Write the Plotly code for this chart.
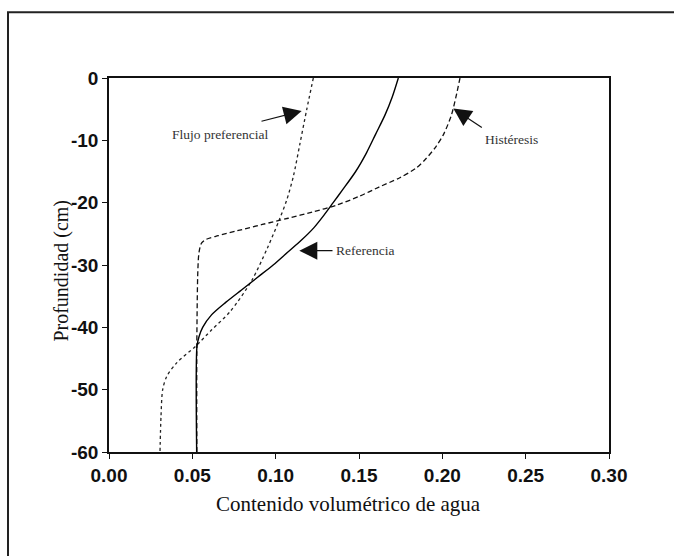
import plotly.graph_objects as go

# Reference curve (solid)
ref_theta = [0.1736, 0.1700, 0.1655, 0.1600, 0.1545, 0.1480, 0.1400, 0.1345, 0.1290, 0.1230, 0.1155, 0.1070, 0.0985, 0.0890, 0.0795, 0.0700, 0.0615, 0.0562, 0.0540, 0.0528, 0.0526]
ref_depth = [0, -3, -6, -9, -12, -15, -18, -20, -22, -24, -26, -28, -30, -32, -34, -36, -38, -40, -41.5, -43, -60]

# Hysteresis (dashed)
hys_theta = [0.2106, 0.2082, 0.2054, 0.2008, 0.1962, 0.1900, 0.1840, 0.1745, 0.1620, 0.1500, 0.1365, 0.1220, 0.1075, 0.0920, 0.0770, 0.0655, 0.0582, 0.0555, 0.0540, 0.0533, 0.0527, 0.0527]
hys_depth = [0, -3, -6, -9, -11, -13, -14.5, -16, -17.5, -19, -20.4, -21.5, -22.5, -23.5, -24.5, -25.3, -25.9, -26.5, -28, -31, -42.5, -60]

# Preferential flow (dotted)
pf_theta = [0.1226, 0.1186, 0.1146, 0.1106, 0.1066, 0.1021, 0.095, 0.0856, 0.0726, 0.0616, 0.0521, 0.0406, 0.0346, 0.0322, 0.0312, 0.0306]
pf_depth = [0, -5.1, -10.5, -15.8, -19.6, -22.8, -27.3, -32.5, -37.5, -40.4, -43.0, -45.7, -47.9, -50.0, -54.3, -60]

x_ticks = [0, 0.05, 0.10, 0.15, 0.20, 0.25, 0.30]
x_ticklabels = ["0.00", "0.05", "0.10", "0.15", "0.20", "0.25", "0.30"]
y_ticks = [0, -10, -20, -30, -40, -50, -60]
y_ticklabels = ["0", "-10", "-20", "-30", "-40", "-50", "-60"]

fig = go.Figure()
fig.add_trace(go.Scatter(x=pf_theta, y=pf_depth, mode="lines",
                         line=dict(color="#222", width=1.3, dash="dot", shape="spline", smoothing=0.8),
                         name="Flujo preferencial"))
fig.add_trace(go.Scatter(x=hys_theta, y=hys_depth, mode="lines",
                         line=dict(color="#111", width=1.3, dash="5px,3px", shape="spline", smoothing=0.8),
                         name="Histéresis"))
fig.add_trace(go.Scatter(x=ref_theta, y=ref_depth, mode="lines",
                         line=dict(color="#000", width=1.4, shape="spline", smoothing=0.8),
                         name="Referencia"))

serif = "Liberation Serif, Times New Roman, serif"
sans = "Liberation Sans, Arial, sans-serif"
ann_font = dict(family=serif, size=13.5, color="#333")

arrow_common = dict(xref="x", yref="y", axref="x", ayref="y", text="",
                    showarrow=True, arrowhead=2, arrowsize=3, arrowwidth=1.2,
                    arrowcolor="#111", standoff=0, startstandoff=0)

axis_common = dict(showgrid=False, zeroline=False, showline=True, linecolor="#111", linewidth=1.5,
                   mirror=True, ticks="outside", ticklen=5, tickcolor="#111",
                   tickfont=dict(family=sans, size=19, color="#111", weight="bold"))

fig.update_layout(
    width=674, height=556,
    margin=dict(l=109, r=65, t=78, b=103.5),
    paper_bgcolor="white", plot_bgcolor="white",
    showlegend=False,
    xaxis=dict(range=[0, 0.30], tickvals=x_ticks, ticktext=x_ticklabels, **axis_common),
    yaxis=dict(range=[-60, 0], tickvals=y_ticks, ticktext=y_ticklabels, **axis_common),
    annotations=[
        dict(x=0.0666, y=-9.1, xref="x", yref="y", text="Flujo preferencial", showarrow=False, font=ann_font),
        dict(x=0.2412, y=-9.8, xref="x", yref="y", text="Histéresis", showarrow=False, font=ann_font),
        dict(x=0.1350, y=-27.7, xref="x", yref="y", text="Referencia", showarrow=False, xanchor="left", font=ann_font),
        dict(x=0.1156, y=-5.3, ax=0.0906, ay=-7.0, **arrow_common),
        dict(x=0.2066, y=-4.9, ax=0.2246, ay=-8.1, **arrow_common),
        dict(x=0.1142, y=-27.7, ax=0.1350, ay=-27.7, **arrow_common),
        dict(x=0.478, y=-0.140, xref="paper", yref="paper", xanchor="center", yanchor="middle",
             text="Contenido volumétrico de agua",
             showarrow=False, font=dict(family=serif, size=21, color="#111")),
        dict(x=-0.094, y=0.485, xref="paper", yref="paper", xanchor="center", yanchor="middle",
             text="Profundidad (cm)", textangle=-90,
             showarrow=False, font=dict(family=serif, size=20, color="#111")),
    ],
    shapes=[
        dict(type="rect", xref="paper", yref="paper", x0=-0.202, x1=1.4, y0=-0.6, y1=1.176,
             line=dict(color="#222", width=2), fillcolor="rgba(0,0,0,0)", layer="below"),
    ],
)

fig.write_html("out.html")
